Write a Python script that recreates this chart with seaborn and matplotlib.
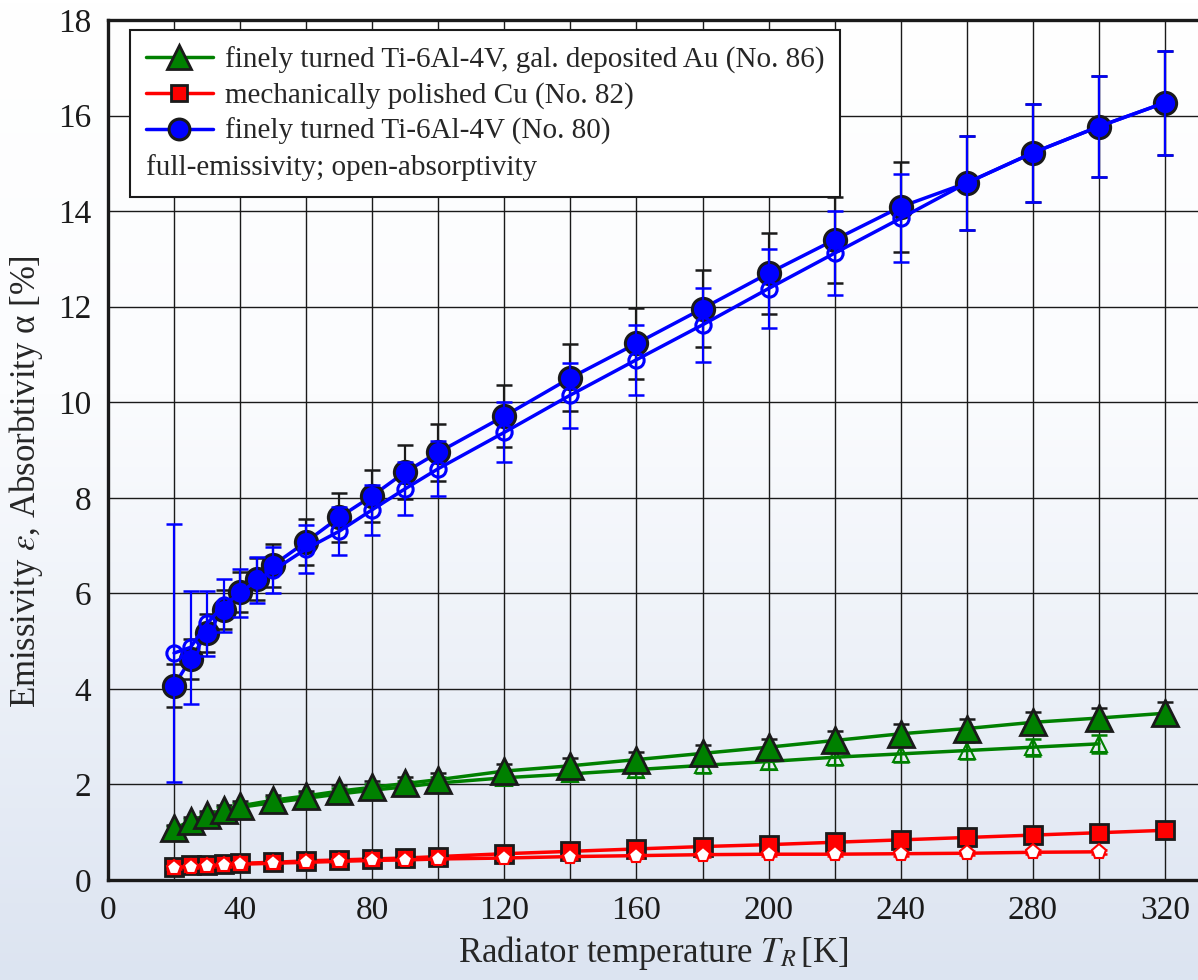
import numpy as np
import matplotlib.pyplot as plt
import seaborn as sns
from matplotlib.colors import LinearSegmentedColormap
from matplotlib.lines import Line2D
from matplotlib.ticker import MultipleLocator

# radiator temperatures [K]
temp_ti = [20, 25, 30, 35, 40, 45, 50, 60, 70, 80, 90, 100, 120, 140, 160,
           180, 200, 220, 240, 260, 280, 300, 320]
temp_full = [20, 25, 30, 35, 40, 50, 60, 70, 80, 90, 100, 120, 140, 160,
             180, 200, 220, 240, 260, 280, 300, 320]
temp_open = [20, 25, 30, 35, 40, 50, 60, 70, 80, 90, 100, 120, 140, 160,
             180, 200, 220, 240, 260, 280, 300]

# finely turned Ti-6Al-4V (No. 80)
ti_full = [4.07, 4.62, 5.17, 5.66, 6.03, 6.30, 6.59, 7.08, 7.59, 8.04, 8.54,
           8.95, 9.71, 10.51, 11.23, 11.96, 12.70, 13.40, 14.09, 14.59, 15.22,
           15.77, 16.27]
ti_full_err = [0.45, 0.42, 0.40, 0.40, 0.42, 0.43, 0.45, 0.48, 0.51, 0.54,
               0.57, 0.60, 0.65, 0.70, 0.75, 0.80, 0.85, 0.90, 0.94, 0.98,
               1.02, 1.05, 1.09]
ti_open = [4.75, 4.87, 5.37, 5.75, 6.00, 6.28, 6.48, 6.93, 7.30, 7.75, 8.19,
           8.61, 9.37, 10.15, 10.89, 11.62, 12.38, 13.12, 13.85, 14.59, 15.22,
           15.77, 16.27]
ti_open_err = [2.70, 1.18, 0.68, 0.55, 0.50, 0.48, 0.48, 0.50, 0.50, 0.52,
               0.55, 0.58, 0.63, 0.68, 0.73, 0.78, 0.82, 0.88, 0.92, 0.98,
               1.02, 1.05, 1.09]

# finely turned Ti-6Al-4V, gal. deposited Au (No. 86)
au_full = [1.08, 1.23, 1.36, 1.47, 1.55, 1.67, 1.76, 1.86, 1.94, 2.02, 2.10,
           2.28, 2.39, 2.52, 2.65, 2.78, 2.92, 3.06, 3.17, 3.30, 3.39, 3.49]
au_full_err = [0.07, 0.08, 0.09, 0.10, 0.10, 0.11, 0.11, 0.12, 0.13, 0.13,
               0.14, 0.15, 0.16, 0.16, 0.17, 0.18, 0.19, 0.20, 0.21, 0.21,
               0.22, 0.23]
au_open = [1.05, 1.20, 1.32, 1.44, 1.52, 1.62, 1.71, 1.80, 1.88, 1.95, 2.03,
           2.14, 2.22, 2.31, 2.40, 2.48, 2.57, 2.64, 2.71, 2.78, 2.85]
au_open_err = [0.07, 0.08, 0.09, 0.09, 0.10, 0.11, 0.11, 0.12, 0.12, 0.13,
               0.13, 0.14, 0.14, 0.15, 0.16, 0.16, 0.17, 0.17, 0.18, 0.18,
               0.19]

# mechanically polished Cu (No. 82)
cu_full = [0.28, 0.31, 0.32, 0.33, 0.35, 0.37, 0.40, 0.42, 0.44, 0.46, 0.49,
           0.55, 0.60, 0.65, 0.70, 0.74, 0.79, 0.84, 0.89, 0.94, 0.99, 1.04]
cu_full_err = [0.03, 0.03, 0.03, 0.03, 0.03, 0.03, 0.03, 0.03, 0.04, 0.04,
               0.04, 0.04, 0.04, 0.04, 0.05, 0.05, 0.05, 0.05, 0.06, 0.06,
               0.06, 0.06]
cu_open = [0.26, 0.28, 0.30, 0.31, 0.33, 0.35, 0.37, 0.39, 0.41, 0.42, 0.44,
           0.46, 0.49, 0.51, 0.53, 0.54, 0.54, 0.55, 0.56, 0.58, 0.59]
cu_open_err = [0.03, 0.03, 0.03, 0.03, 0.03, 0.03, 0.03, 0.03, 0.03, 0.03,
               0.03, 0.03, 0.04, 0.04, 0.04, 0.04, 0.04, 0.04, 0.04, 0.04,
               0.04]

labels = ['finely turned Ti-6Al-4V, gal. deposited Au (No. 86)',
          'mechanically polished Cu (No. 82)',
          'finely turned Ti-6Al-4V (No. 80)']
note = 'full-emissivity; open-absorptivity'

GREEN, RED, BLUE = '#008000', '#ff0000', '#0000ff'

sns.set_theme(style='white')
plt.rcParams['font.family'] = ['Liberation Serif', 'DejaVu Serif']
plt.rcParams['mathtext.fontset'] = 'stix'
plt.rcParams['font.size'] = 24

fig = plt.figure(figsize=(11.98, 9.8), dpi=100)

# soft vertical gradient behind everything
bg = fig.add_axes([0, 0, 1, 1], zorder=-10)
cmap = LinearSegmentedColormap.from_list(
    'bg', [(0, '#ffffff'), (0.4, '#fbfcfe'), (1, '#dce4f1')])
bg.imshow(np.linspace(0, 1, 256).reshape(-1, 1), aspect='auto', cmap=cmap,
          extent=[0, 1, 0, 1])
bg.axis('off')

ax = fig.add_axes([108 / 1198, 100 / 980, 1090 / 1198, 860 / 980])
ax.patch.set_alpha(0)


def draw(x, y, err, color, marker, ms, fill, edge, mew, ecolor, z):
    ax.errorbar(x, y, yerr=err, fmt='none', ecolor=ecolor, elinewidth=1.6,
                capsize=6, capthick=1.8, zorder=z)
    sns.lineplot(x=x, y=y, ax=ax, color=color, linewidth=2.5, marker=marker,
                 markersize=ms, markerfacecolor=fill, markeredgecolor=edge,
                 markeredgewidth=mew, legend=False, zorder=z + 0.5)


# open = absorptivity, filled = full emissivity
draw(temp_open, cu_open, cu_open_err, RED, 'p', 11, 'white', RED, 1.5, RED, 4)
draw(temp_full, cu_full, cu_full_err, RED, 's', 13, RED, 'k', 2, 'k', 3)
draw(temp_open, au_open, au_open_err, GREEN, '^', 12, 'none', GREEN, 1.5, GREEN, 3)
draw(temp_full, au_full, au_full_err, GREEN, '^', 19, GREEN, 'k', 2, 'k', 4)
draw(temp_ti, ti_full, ti_full_err, BLUE, 'o', 16, BLUE, 'k', 2.2, 'k', 4)
draw(temp_ti, ti_open, ti_open_err, BLUE, 'o', 11, 'none', BLUE, 2.2, BLUE, 5)

ax.set_xlim(0, 330)
ax.set_ylim(0, 18)
ax.xaxis.set_major_locator(MultipleLocator(40))
ax.xaxis.set_minor_locator(MultipleLocator(20))
ax.yaxis.set_major_locator(MultipleLocator(2))
ax.yaxis.set_minor_locator(MultipleLocator(1))
ax.tick_params(which='major', direction='in', length=12, width=2.2,
               colors='k', labelsize=24)
ax.tick_params(which='minor', direction='in', length=7, width=2.2, colors='k')
ax.tick_params(axis='x', pad=11)
ax.tick_params(axis='y', pad=12)
ax.set_axisbelow(True)
ax.grid(True, which='both', axis='x', color='k', linewidth=1)
ax.grid(True, which='major', axis='y', color='k', linewidth=1)
for side in ['left', 'bottom', 'top']:
    ax.spines[side].set_color('k')
    ax.spines[side].set_linewidth(2.4)
ax.spines['right'].set_visible(False)

ax.set_xlabel(r'Radiator temperature $T_R\,$[K]', fontsize=25, labelpad=6)
ax.set_ylabel(r'Emissivity $\varepsilon$, Absorbtivity α [%]', fontsize=25)
ax.yaxis.set_label_coords(-0.058, 0.463)

handles = [
    Line2D([], [], color=GREEN, lw=2.5, marker='^', ms=17, mfc=GREEN,
           mec='k', mew=2),
    Line2D([], [], color=RED, lw=2.5, marker='s', ms=12, mfc=RED, mec='k',
           mew=2),
    Line2D([], [], color=BLUE, lw=2.5, marker='o', ms=15, mfc=BLUE, mec='k',
           mew=2.2),
    Line2D([], [], linestyle='none'),
]
leg = ax.legend(handles, labels + [' '], loc='upper left',
                bbox_to_anchor=(0.02, 0.988), borderaxespad=0, fontsize=21,
                frameon=True, fancybox=False, framealpha=1, edgecolor='k',
                handlelength=2.3, handletextpad=0.4, labelspacing=0.3,
                borderpad=0.55)
leg.get_frame().set_linewidth(1.5)
leg.set_zorder(10)

# last legend row holds a note without a handle, flush with the frame
fig.canvas.draw()
frame_box = leg.get_frame().get_window_extent()
row_box = leg.get_texts()[3].get_window_extent()
ax.annotate(note, xy=(frame_box.x0 + 16, (row_box.y0 + row_box.y1) / 2),
            xycoords='figure pixels', va='center', ha='left', fontsize=21,
            zorder=11)

fig.savefig('out.png', dpi=100)
